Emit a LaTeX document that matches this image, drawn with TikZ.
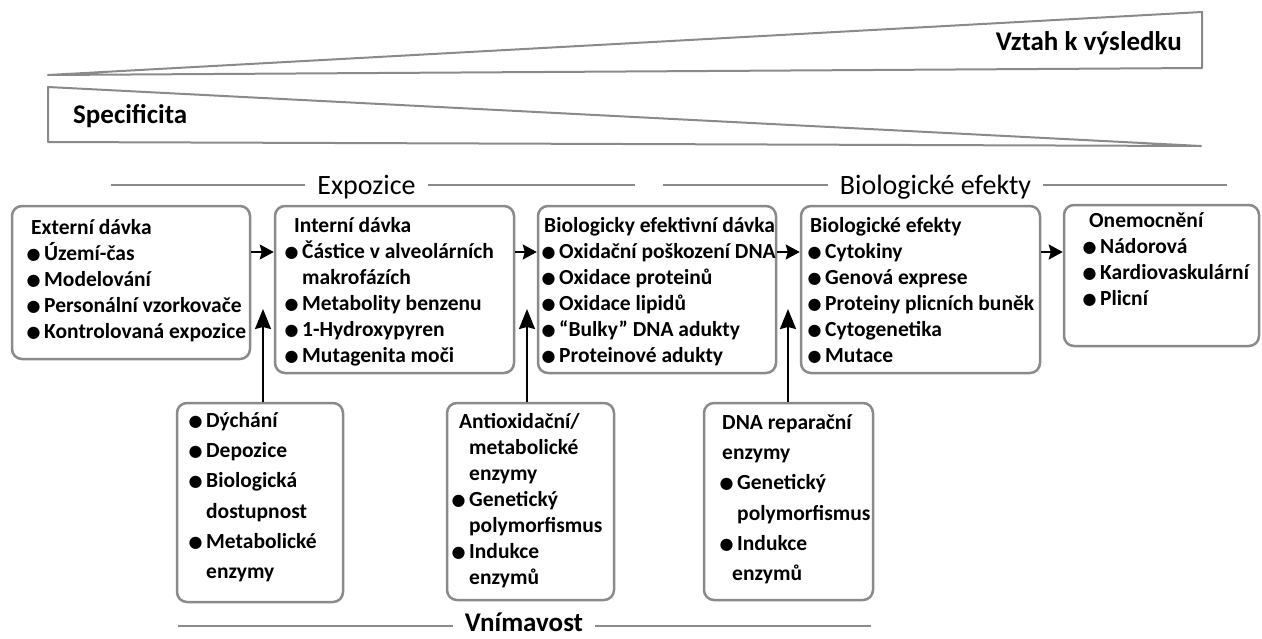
\documentclass[tikz,border=0pt]{standalone}
\usepackage{fontspec}
\setmainfont{Carlito}
\newfontfamily\dvfont{DejaVu Sans}
\usetikzlibrary{arrows.meta,fit}
\definecolor{lgray}{HTML}{8A8A8A}
\newcommand\bl{\makebox[15pt][l]{\hspace*{-2.5pt}\raisebox{1.2pt}{\dvfont\fontsize{16}{16}\selectfont ●}}}
\newcommand\hi{\hspace*{15pt}}
\newcommand\fs{\rule{0pt}{21pt}}
\begin{document}
\begin{tikzpicture}[x=1pt,y=-1pt,
  box/.style={draw=lgray, line width=2.5pt, rounded corners=10pt, inner sep=0pt},
  wedge/.style={draw=lgray, line width=2pt, line join=round},
  hline/.style={draw=lgray, line width=2pt},
  txt/.style={anchor=north west, inner sep=0pt, align=left, font=\bfseries\fontsize{21.5}{26}\selectfont},
  btxt/.style={anchor=north west, inner sep=0pt, align=left, font=\bfseries\fontsize{21.5}{30.3}\selectfont},
  lbl/.style={inner sep=0pt, font=\bfseries\fontsize{27}{30}\selectfont},
  hdr/.style={inner xsep=12pt, inner ysep=0pt, font=\fontsize{28}{30}\selectfont},
  hdrb/.style={inner xsep=12pt, inner ysep=0pt, font=\bfseries\fontsize{27}{30}\selectfont},
  harr/.style={draw=black, line width=2.2pt, -{Stealth[length=14pt,width=15pt,inset=2pt]}},
  varr/.style={draw=black, line width=2pt, -{Stealth[length=20pt,width=16pt,inset=2pt]}}
]
\useasboundingbox (0,0) rectangle (1262,638);

% wedges
\draw[wedge] (48,75) -- (1202,12) -- (1202,68) -- cycle;
\draw[wedge] (48,87) -- (1201,146) -- (48,142) -- cycle;
\node[lbl, anchor=base east] (vz) at (1182,50) {Vztah k výsledku};
\node[lbl, anchor=base west] (sp) at (73,123) {Specificita};

% headers
\node[hdr, anchor=base] (hex) at (366.5,194) {Expozice};
\coordinate (exL) at (111,185);
\coordinate (exR) at (635,185);
\draw[hline] (exL) -- (exL -| hex.west);
\draw[hline] (exR -| hex.east) -- (exR);

\node[hdr, anchor=base] (hbe) at (935.5,194) {Biologické efekty};
\coordinate (beL) at (663,185);
\coordinate (beR) at (1227,185);
\draw[hline] (beL) -- (beL -| hbe.west);
\draw[hline] (beR -| hbe.east) -- (beR);

\node[hdrb, anchor=base] (hvn) at (524,631) {Vnímavost};
\coordinate (vnL) at (178,626);
\coordinate (vnR) at (871,626);
\draw[hline] (vnL) -- (vnL -| hvn.west);
\draw[hline] (vnR -| hvn.east) -- (vnR);

% top boxes
\node[box, fit={(12,206) (250,359)}] (b1) {};
\node[box, fit={(275,206) (514,373)}] (b2) {};
\node[box, fit={(538,206) (776,373)}] (b3) {};
\node[box, fit={(801,206) (1040,373)}] (b4) {};
\node[box, fit={(1064,205) (1259,346)}] (b5) {};

\node[txt] (t1) at (29,213) {\fs\hspace*{2pt}Externí dávka\\ \bl Území-čas\\ \bl Modelování\\ \bl Personální vzorkovače\\ \bl Kontrolovaná expozice};
\node[txt] (t2) at (287,211) {\fs\hspace*{7pt}Interní dávka\\ \bl Částice v alveolárních\\ \hi makrofázích\\ \bl Metabolity benzenu\\ \bl 1-Hydroxypyren\\ \bl Mutagenita moči};
\node[txt] (t3) at (544,211) {\fs Biologicky efektivní dávka\\ \bl Oxidační poškození DNA\\ \bl Oxidace proteinů\\ \bl Oxidace lipidů\\ \bl “Bulky” DNA adukty\\ \bl Proteinové adukty};
\node[txt] (t4) at (810,211) {\fs Biologické efekty\\ \bl Cytokiny\\ \bl Genová exprese\\ \bl Proteiny plicních buněk\\ \bl Cytogenetika\\ \bl Mutace};
\node[txt] (t5) at (1085,206) {\fs\hspace*{4pt}Onemocnění\\ \bl Nádorová\\ \bl Kardiovaskulární\\ \bl Plicní};

% bottom boxes
\node[box, fit={(177,403) (343,602)}] (bA) {};
\node[box, fit={(447,403) (614,600)}] (bB) {};
\node[box, fit={(704,403) (873,600)}] (bC) {};

\node[btxt] (tA) at (191,406) {\fs\bl Dýchání\\ \bl Depozice\\ \bl Biologická\\ \hi dostupnost\\ \bl Metabolické\\ \hi enzymy};
\node[txt] (tB) at (454,407) {\fs\hspace*{5pt}Antioxidační/\\ \hi metabolické\\ \hi enzymy\\ \bl Genetický\\ \hi polymorfismus\\ \bl Indukce\\ \hi enzymů};
\node[btxt] (tC) at (722,408) {\fs DNA reparační\\ enzymy\\ \bl Genetický\\ \hi polymorfismus\\ \bl Indukce\\ \hspace*{10pt}enzymů};

% horizontal arrows
\coordinate (hy) at (0,252);
\draw[harr] (b1.east |- hy) -- (b2.west |- hy);
\draw[harr] (b2.east |- hy) -- (b3.west |- hy);
\draw[harr] (b3.east |- hy) -- (b4.west |- hy);
\draw[harr] (b4.east |- hy) -- (b5.west |- hy);

% vertical arrows
\coordinate (va) at (263,309);
\coordinate (vb) at (527,309);
\coordinate (vc) at (788,309);
\draw[varr] (va |- bA.north) -- (va);
\draw[varr] (vb |- bB.north) -- (vb);
\draw[varr] (vc |- bC.north) -- (vc);
\end{tikzpicture}
\end{document}
